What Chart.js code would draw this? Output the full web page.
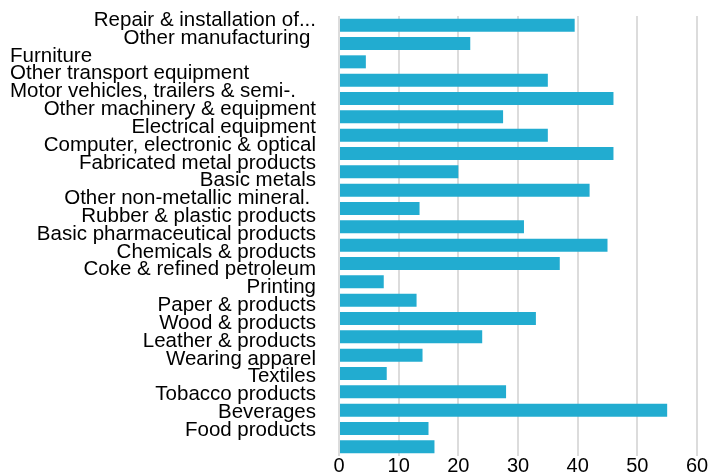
<!DOCTYPE html>
<html>
<head>
<meta charset="utf-8">
<script src="https://cdn.jsdelivr.net/npm/chart.js@4.4.1/dist/chart.umd.min.js"></script>
<style>
    html, body { margin: 0; padding: 0; background: #fff; }
    #wrap { width: 709px; height: 472px; }
</style>
</head>
<body>
<div id="wrap"><canvas id="industryChart"></canvas></div>
<script>
// categories, top to bottom
var categories = [
    'Repair & installation of...',
    'Other manufacturing ',
    'Furniture',
    'Other transport equipment',
    'Motor vehicles, trailers & semi-.',
    'Other machinery & equipment',
    'Electrical equipment',
    'Computer, electronic & optical',
    'Fabricated metal products',
    'Basic metals',
    'Other non-metallic mineral. ',
    'Rubber & plastic products',
    'Basic pharmaceutical products',
    'Chemicals & products',
    'Coke & refined petroleum',
    'Printing',
    'Paper & products',
    'Wood & products',
    'Leather & products',
    'Wearing apparel',
    'Textiles',
    'Tobacco products',
    'Beverages',
    'Food products'
];

// bar values, same order
var values = [39.5, 22, 4.5, 35, 46, 27.5, 35, 46, 20, 42, 13.5, 31,
              45, 37, 7.5, 13, 33, 24, 14, 8, 28, 55, 15, 16];

// x axis ticks
var xTicks = [0, 10, 20, 30, 40, 50, 60];

// these labels are left-aligned in the original picture
var leftAlignedLabels = ['Furniture', 'Other transport equipment', 'Motor vehicles, trailers & semi-.'];

var labelFont = { family: "'Liberation Sans', Arial, sans-serif", size: 20.5, lineHeight: 0.8 };

// move a few tick labels to the left edge
var leftLabelsPlugin = {
    id: 'leftLabels',
    beforeDraw: function (chart) {
        var items = chart.scales.labels.getLabelItems();
        items.forEach(function (item) {
            if (leftAlignedLabels.indexOf(item.label) >= 0) {
                item.options.textAlign = 'left';
                item.options.translation[0] = 10;
            }
        });
    }
};

var ctx = document.getElementById('industryChart').getContext('2d');
var industryChart = new Chart(ctx, {
    type: 'bar',
    data: {
        labels: categories,
        datasets: [{
            data: values,
            backgroundColor: '#22acd0',
            borderWidth: 0,
            categoryPercentage: 1,
            barPercentage: 0.71
        }]
    },
    options: {
        indexAxis: 'y',
        responsive: true,
        maintainAspectRatio: false,
        animation: false,
        layout: { padding: { top: 16, right: 12, bottom: 0, left: 0 } },
        scales: {
            x: {
                min: xTicks[0],
                max: xTicks[xTicks.length - 1],
                afterBuildTicks: function (scale) {
                    scale.ticks = xTicks.map(function (v) { return { value: v }; });
                },
                afterFit: function (scale) { scale.height = 16; },
                grid: { color: '#dcdcdc', lineWidth: 2, drawTicks: false },
                border: { display: false },
                ticks: {
                    padding: 0,
                    color: '#000',
                    font: { family: "'Liberation Sans', Arial, sans-serif", size: 20, lineHeight: 1 }
                }
            },
            y: {
                display: false
            },
            // label axis: the labels sit slightly tighter than the bars
            labels: {
                type: 'linear',
                position: 'left',
                reverse: true,
                offset: false,
                bounds: 'data',
                min: -0.236,
                max: 24.44,
                afterBuildTicks: function (scale) {
                    scale.ticks = categories.map(function (c, i) { return { value: i }; });
                },
                afterFit: function (scale) {
                    scale.width = 339;
                    scale.paddingTop = 0;
                    scale.paddingBottom = 0;
                },
                grid: { display: false, drawTicks: false, offset: false },
                border: { display: false },
                ticks: {
                    autoSkip: false,
                    padding: 23,
                    color: '#000',
                    font: labelFont,
                    callback: function (v) { return categories[v]; }
                }
            }
        },
        plugins: {
            legend: { display: false },
            tooltip: { enabled: false }
        }
    },
    plugins: [leftLabelsPlugin]
});
</script>
</body>
</html>
